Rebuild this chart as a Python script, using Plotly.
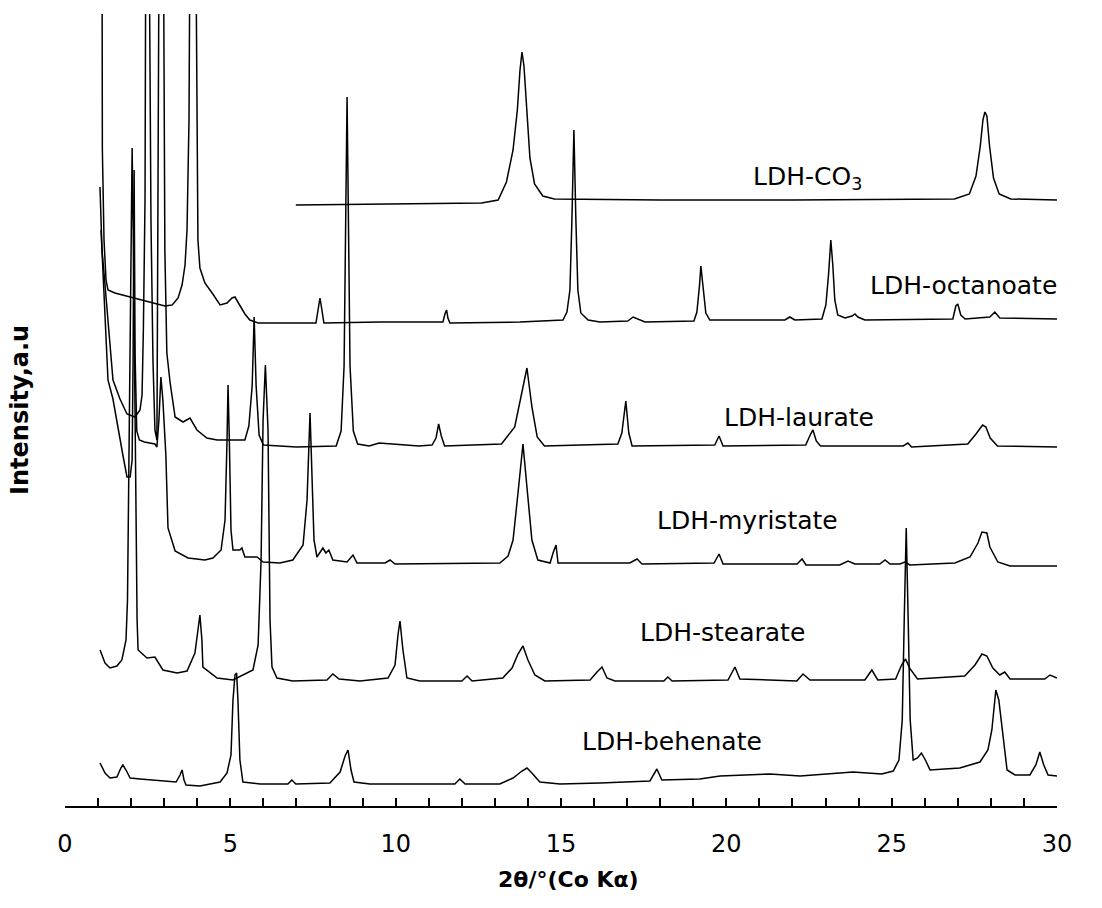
import plotly.graph_objects as go

# ---------------- data (2theta in degrees, intensity in arbitrary units, as stacked in the figure) -------------
co3_2theta = [6.98, 10.0, 12.6, 13.1, 13.35, 13.55, 13.68, 13.76, 13.82, 13.88, 13.96, 14.06, 14.2, 14.45, 14.8,
              18.0, 22.0, 26.9, 27.35, 27.55, 27.68, 27.76, 27.82, 27.88, 27.96, 28.08, 28.25, 28.6, 30.0]
co3_int = [601, 602, 603, 606, 624, 656, 696, 736, 754, 740, 700, 648, 622, 610, 607,
           606, 606, 607, 612, 630, 660, 686, 694, 690, 660, 628, 612, 607, 606]

octanoate_2theta = [1.09, 1.13, 1.18, 1.24, 1.30, 1.51, 1.97, 2.57, 3.02, 3.24, 3.42, 3.54, 3.63, 3.69, 3.75, 3.80,
                    3.86, 3.93, 3.98, 4.02, 4.08, 4.23, 4.45, 4.69, 4.90, 5.05, 5.14, 5.29, 5.44, 5.59, 5.84,
                    7.59, 7.67, 7.71, 7.76, 7.83, 9.53, 11.43, 11.49, 11.54, 11.58, 11.64, 13.76, 15.06, 15.18,
                    15.27, 15.33, 15.39, 15.45, 15.51, 15.60, 15.82, 16.18, 17.02, 17.18, 17.33, 17.54, 19.02,
                    19.11, 19.19, 19.23, 19.29, 19.38, 19.50, 21.02, 21.77, 21.92, 22.07, 22.89, 23.01, 23.09,
                    23.16, 23.22, 23.28, 23.37, 23.59, 23.80, 23.89, 23.98, 24.19, 26.85, 26.94, 27.00, 27.09,
                    27.22, 27.97, 28.12, 28.27, 30.0]
octanoate_int = [1500, 656, 566, 526, 516, 513, 509, 504, 500, 501, 508, 521, 541, 576, 686, 1000,
                 1400, 1000, 686, 566, 538, 523, 513, 501, 503, 508, 509, 501, 492, 486, 483,
                 483, 498, 508, 498, 483, 484, 484, 492, 496, 488, 483, 484, 486, 494,
                 516, 586, 676, 586, 516, 493, 486, 484, 485, 489, 487, 484, 485,
                 494, 521, 540, 521, 493, 486, 486, 486, 489, 486, 487, 501, 531,
                 566, 541, 506, 491, 488, 490, 492, 489, 486, 487, 500, 502, 491,
                 487, 489, 494, 488, 487]

laurate_2theta = [1.058, 1.119, 1.21, 1.27, 1.361, 1.451, 1.663, 1.875, 2.117, 2.268, 2.33, 2.37, 2.42, 2.45,
                  2.48, 2.54, 2.57, 2.60, 2.66, 2.72, 2.78, 2.81, 2.86, 2.90, 2.96, 3.00, 3.02, 3.08, 3.18,
                  3.33, 3.57, 3.78, 3.99, 4.29, 4.60, 5.44, 5.56, 5.66, 5.72, 5.78, 5.87, 6.0, 7.0, 8.2,
                  8.35, 8.44, 8.50, 8.53, 8.56, 8.62, 8.72, 8.85, 9.2, 9.5, 9.9, 10.7, 11.1, 11.22, 11.3,
                  11.38, 11.48, 13.2, 13.6, 13.82, 13.97, 14.12, 14.28, 14.5, 16.72, 16.84, 16.96, 17.05,
                  17.15, 19.65, 19.78, 19.9, 22.4, 22.55, 22.62, 22.72, 22.85, 25.35, 25.49, 25.6, 27.3,
                  27.55, 27.75, 27.85, 27.98, 28.2, 30.0]
laurate_int = [619, 556, 521, 499, 459, 426, 407, 392, 389, 396, 411, 476, 606, 800,
               1300, 900, 700, 586, 446, 376, 366, 650, 1000, 1300, 1000, 700, 556, 453, 423,
               389, 384, 388, 376, 368, 366, 366, 380, 420, 489, 420, 371, 361, 359, 360,
               375, 440, 620, 709, 620, 440, 375, 362, 360, 363, 362, 360, 361, 368, 382,
               370, 360, 362, 379, 413, 438, 399, 369, 360, 362, 373, 405, 373,
               360, 361, 370, 360, 361, 372, 376, 365, 360, 360, 363, 359, 362,
               372, 381, 379, 368, 360, 359]

myristate_2theta = [1.09, 1.18, 1.30, 1.45, 1.60, 1.75, 1.875, 1.97, 2.03, 2.06, 2.09, 2.12, 2.17, 2.25, 2.40,
                    2.60, 2.72, 2.78, 2.84, 2.90, 2.96, 3.05, 3.115, 3.33, 3.72, 4.23, 4.475, 4.72, 4.84, 4.90,
                    4.93, 4.97, 5.02, 5.08, 5.29, 5.35, 5.44, 5.81, 5.99, 6.50, 6.89, 7.20, 7.32, 7.41, 7.47,
                    7.53, 7.62, 7.80, 7.89, 7.98, 8.10, 8.53, 8.71, 8.83, 9.68, 9.83, 9.98, 13.15, 13.40,
                    13.55, 13.70, 13.85, 13.97, 14.12, 14.30, 14.67, 14.76, 14.85, 14.91, 17.08, 17.30, 17.45,
                    19.63, 19.78, 19.90, 22.14, 22.29, 22.41, 23.43, 23.68, 23.89, 24.64, 24.80, 24.95, 25.25,
                    25.40, 25.55, 26.91, 27.37, 27.61, 27.73, 27.88, 27.97, 28.21, 28.58, 30.0]
myristate_int = [576, 506, 426, 407, 377, 351, 329, 329, 346, 450, 636, 450, 375, 366, 364,
                 363, 362, 359, 386, 429, 406, 351, 278, 255, 248, 246, 248, 256, 286, 366,
                 421, 366, 276, 256, 256, 258, 249, 249, 244, 243, 246, 261, 306, 393, 326,
                 266, 249, 258, 253, 256, 246, 244, 251, 243, 243, 246, 242, 243, 250,
                 266, 313, 362, 319, 266, 246, 243, 253, 261, 243, 243, 247, 242,
                 243, 252, 242, 242, 247, 241, 241, 245, 242, 242, 246, 242, 242,
                 244, 241, 243, 249, 263, 274, 273, 259, 244, 240, 240]

stearate_2theta = [1.06, 1.21, 1.36, 1.57, 1.72, 1.845, 1.89, 1.935, 1.98, 2.03, 2.07, 2.12, 2.18, 2.21, 2.48,
                   2.72, 2.96, 3.39, 3.69, 3.93, 4.02, 4.08, 4.14, 4.17, 4.60, 5.08, 5.685, 5.84, 5.93, 5.99,
                   6.06, 6.14, 6.20, 6.26, 6.41, 6.89, 7.92, 8.10, 8.29, 8.92, 9.77, 9.98, 10.07, 10.13,
                   10.22, 10.34, 10.73, 12.00, 12.16, 12.31, 13.24, 13.52, 13.70, 13.85, 14.00, 14.21, 14.51,
                   15.88, 16.09, 16.24, 16.39, 16.63, 18.11, 18.23, 18.36, 20.05, 20.26, 20.41, 22.13, 22.32,
                   22.53, 24.19, 24.40, 24.58, 25.12, 25.30, 25.42, 25.54, 25.78, 27.21, 27.52, 27.73, 27.88,
                   28.06, 28.27, 28.42, 28.58, 29.63, 29.79, 30.0]
stearate_int = [156, 143, 138, 140, 146, 166, 206, 356, 556, 658, 556, 356, 186, 156, 148,
                149, 136, 133, 135, 153, 176, 191, 166, 139, 128, 126, 136, 161, 246, 386,
                441, 376, 186, 139, 128, 125, 126, 132, 127, 125, 128, 141, 171, 185,
                156, 128, 125, 125, 130, 125, 128, 138, 152, 160, 146, 131, 125,
                126, 134, 139, 128, 125, 125, 129, 125, 126, 139, 127, 125, 132,
                126, 126, 136, 126, 127, 141, 147, 138, 127, 130, 141, 152, 150,
                138, 131, 134, 127, 127, 131, 128]

behenate_2theta = [1.06, 1.21, 1.36, 1.57, 1.69, 1.75, 1.845, 1.97, 2.27, 2.87, 3.36, 3.48, 3.54, 3.60, 3.66,
                   4.08, 4.69, 4.90, 5.02, 5.08, 5.14, 5.19, 5.23, 5.29, 5.38, 5.90, 6.74, 6.86, 6.98, 8.01,
                   8.32, 8.47, 8.56, 8.65, 8.74, 9.22, 11.79, 11.94, 12.10, 13.15, 13.55, 13.82, 13.97, 14.12,
                   14.36, 14.97, 16.18, 17.69, 17.90, 18.05, 19.20, 19.81, 21.32, 22.23, 23.83, 24.70, 25.05,
                   25.22, 25.32, 25.38, 25.44, 25.50, 25.56, 25.65, 25.78, 25.90, 26.02, 26.16, 27.06, 27.67,
                   27.91, 28.03, 28.15, 28.24, 28.36, 28.49, 28.73, 29.18, 29.36, 29.48, 29.60, 29.73, 30.0]
behenate_int = [43, 33, 28, 29, 38, 41, 36, 28, 27, 25, 24, 31, 36, 26, 21,
                20, 24, 33, 51, 106, 131, 133, 106, 46, 24, 22, 22, 26, 22, 23,
                34, 50, 56, 36, 24, 22, 22, 27, 22, 22, 28, 35, 38, 33,
                24, 22, 23, 25, 37, 26, 27, 30, 32, 30, 34, 32, 35,
                46, 86, 186, 278, 186, 86, 46, 48, 53, 46, 36, 38, 44,
                56, 76, 116, 106, 71, 36, 31, 31, 41, 54, 41, 31, 30]

series = [
    ("LDH-CO<sub>3</sub>", co3_2theta, co3_int, 20.74, 628),
    ("LDH-octanoate", octanoate_2theta, octanoate_int, 24.28, 521),
    ("LDH-laurate", laurate_2theta, laurate_int, 19.87, 389),
    ("LDH-myristate", myristate_2theta, myristate_int, 17.84, 286),
    ("LDH-stearate", stearate_2theta, stearate_int, 17.33, 174),
    ("LDH-behenate", behenate_2theta, behenate_int, 15.57, 65),
]

FONT = "Verdana, DejaVu Sans, sans-serif"

fig = go.Figure()
for name, xs, ys, lx, ly in series:
    fig.add_trace(go.Scatter(x=xs, y=ys, mode="lines", name=name,
                             line=dict(color="black", width=1.5), showlegend=False,
                             hoverinfo="skip"))
    fig.add_annotation(x=lx, y=ly, text=name, showarrow=False, xanchor="left", yanchor="middle",
                       font=dict(family=FONT, size=25, color="black"))

fig.add_annotation(xref="paper", yref="paper", x=0.508, y=-0.0934, text="<b>2θ/°(Co Kα)</b>",
                   showarrow=False, xanchor="center", yanchor="middle",
                   font=dict(family=FONT, size=22, color="black"))
fig.add_annotation(xref="paper", yref="paper", x=-0.0454, y=0.5, text="<b>Intensity,a.u</b>",
                   showarrow=False, xanchor="center", yanchor="middle", textangle=-90,
                   font=dict(family=FONT, size=24, color="black"))

fig.update_layout(
    width=1102, height=908,
    margin=dict(l=65, r=45, t=14, b=102),
    paper_bgcolor="white", plot_bgcolor="white",
    font=dict(family=FONT, color="black"),
    xaxis=dict(range=[0, 30], showgrid=False, zeroline=False, showline=True, linecolor="black",
               linewidth=1.5, ticks="inside", ticklen=8, tickwidth=1.5, tickcolor="black",
               tick0=0, dtick=5, tickfont=dict(family=FONT, size=24, color="black"),
               ticklabelstandoff=15,
               minor=dict(dtick=1, ticks="inside", ticklen=8, tickwidth=1.5, tickcolor="black")),
    yaxis=dict(range=[0, 792], visible=False, showgrid=False, zeroline=False),
)

fig.write_html("out.html")
